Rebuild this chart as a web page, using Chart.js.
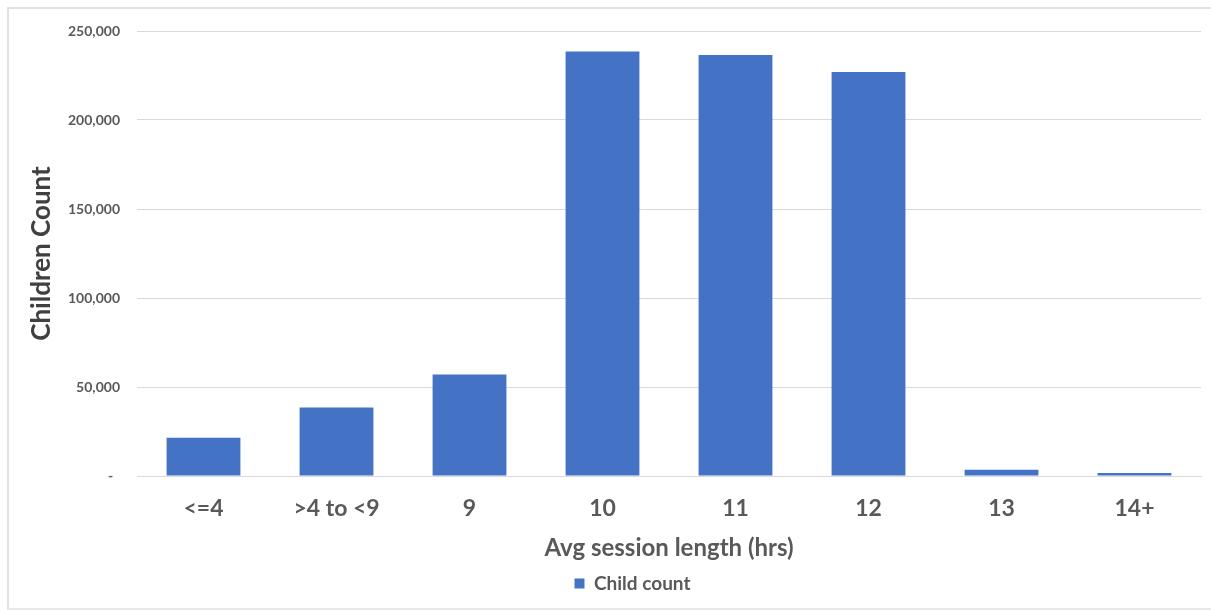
<!DOCTYPE html>
<html>
<head>
<meta charset="utf-8">
<script src="https://cdn.jsdelivr.net/npm/chart.js@4.4.0/dist/chart.umd.min.js"></script>
<style>
  html, body { margin: 0; padding: 0; background: #ffffff; overflow: hidden; }
  #wrap { position: relative; width: 1211px; height: 610px; overflow: hidden; }
  #frame {
    position: absolute; left: 7px; top: 7px; width: 1230px; height: 599px;
    border-left: 2px solid #e2e2e2; border-top: 2px solid #e2e2e2; border-bottom: 2px solid #e8e8e8;
  }
  #c { position: absolute; left: 0; top: 0; }
</style>
</head>
<body>
<div id="wrap">
  <div id="frame"></div>
  <canvas id="c" width="1211" height="610"></canvas>
</div>
<script>
// Children grouped by average session length
const sessionLengths = ['<=4', '>4 to <9', '9', '10', '11', '12', '13', '14+'];
const childCounts = [21500, 38500, 57000, 238500, 236500, 227000, 3500, 1700];
const yTickStep = 50000;
const yMax = 250000;

const FONT = "Lato, 'Open Sans', 'DejaVu Sans', sans-serif";
const BAR_BLUE = '#4472c4';
const TEXT_GRAY = '#595959';

// Nudge the legend box to the right of the canvas centre
const legendShift = {
  id: 'legendShift',
  afterLayout(chart) {
    const lg = chart.legend;
    if (lg) { lg.left += 32; lg.right += 32; }
  }
};

new Chart(document.getElementById('c'), {
  type: 'bar',
  data: {
    labels: sessionLengths,
    datasets: [{
      label: 'Child count',
      data: childCounts,
      backgroundColor: BAR_BLUE,
      borderWidth: 0,
      categoryPercentage: 1.0,
      barPercentage: 0.555
    }]
  },
  plugins: [legendShift],
  options: {
    responsive: false,
    animation: false,
    devicePixelRatio: 1,
    layout: { padding: { top: 31, right: 10, left: 0, bottom: 7 } },
    plugins: {
      tooltip: { enabled: false },
      legend: {
        position: 'bottom',
        labels: {
          boxWidth: 10,
          boxHeight: 10,
          padding: 6,
          color: TEXT_GRAY,
          font: { family: FONT, size: 19, weight: 'bold' }
        }
      }
    },
    scales: {
      x: {
        afterFit: (scale) => { scale.height = 92; },
        grid: { display: false, drawTicks: false },
        border: { display: true, color: '#d9d9d9', width: 1 },
        ticks: {
          color: TEXT_GRAY,
          padding: 19,
          font: { family: FONT, size: 23, weight: 'bold' }
        },
        title: {
          display: true,
          text: 'Avg session length (hrs)',
          color: TEXT_GRAY,
          padding: { top: 0, bottom: 5 },
          font: { family: FONT, size: 24, weight: 'bold' }
        }
      },
      y: {
        min: 0,
        max: yMax,
        afterFit: (scale) => { scale.width = 137; },
        grid: { color: '#d9d9d9', lineWidth: 1, drawTicks: false },
        border: { display: false },
        ticks: {
          stepSize: yTickStep,
          padding: 17,
          color: TEXT_GRAY,
          font: { family: FONT, size: 14, weight: 'bold' },
          callback: (v) => v === 0 ? '-  ' : v.toLocaleString('en-US')
        },
        title: {
          display: true,
          text: 'Children Count',
          color: '#404040',
          padding: { top: 26, bottom: 0 },
          font: { family: FONT, size: 26, weight: 'bold' }
        }
      }
    }
  }
});
</script>
</body>
</html>
